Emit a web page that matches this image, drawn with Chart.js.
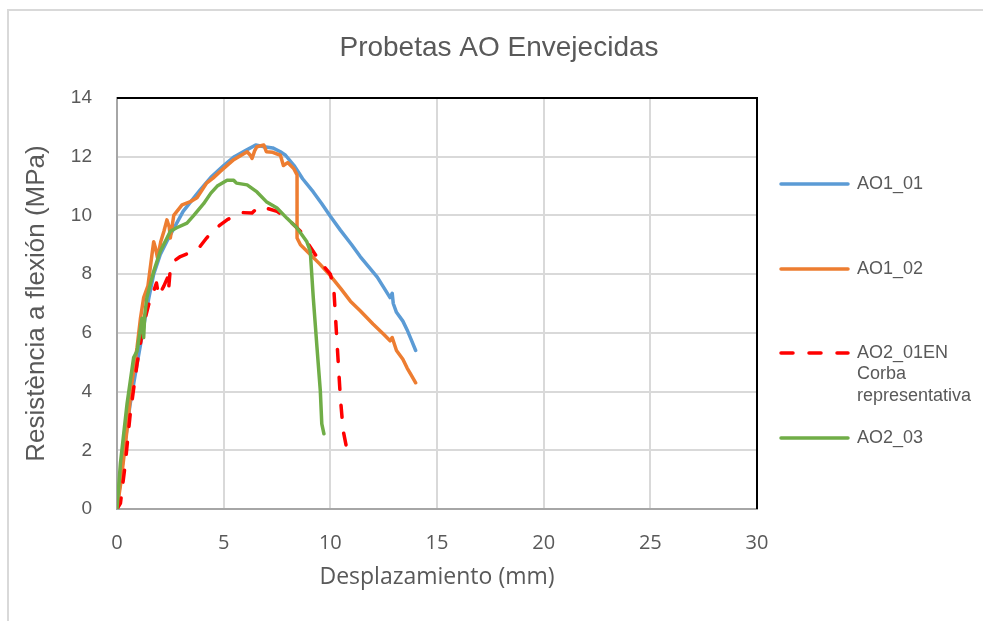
<!DOCTYPE html>
<html lang="es">
<head>
    <meta charset="UTF-8">
    <title>Probetas AO Envejecidas</title>
    <script src="https://cdn.jsdelivr.net/npm/chart.js"></script>
    <style>
        body {
            margin: 0;
            background: #ffffff;
        }
        .chart-container {
            position: relative;
            width: 983px;
            height: 621px;
        }
    </style>
</head>
<body>
    <div class="chart-container">
        <canvas id="graficoFlexion"></canvas>
    </div>

    <script>
        // Marcas de los ejes
        const xTicks = [0, 5, 10, 15, 20, 25, 30];
        const yTicks = [0, 2, 4, 6, 8, 10, 12, 14];

        // AO1_01
        const ao1_01_x = [0, 0.3, 0.6, 0.94, 1.2, 1.4, 1.72, 2.03, 2.34, 2.8, 3.1, 3.6, 3.9, 4.4, 5.0, 5.5, 6.0, 6.5, 6.9, 7.3, 7.66, 7.9, 8.3, 8.7, 9.2, 9.6, 10.0, 10.47, 11.0, 11.4, 11.8, 12.2, 12.5, 12.8, 12.9, 12.95, 13.1, 13.4, 13.6, 13.8, 14.0];
        const ao1_01_y = [0, 1.8, 3.5, 4.94, 6.0, 6.86, 8.0, 8.67, 9.12, 9.74, 10.14, 10.6, 10.87, 11.3, 11.7, 12.0, 12.2, 12.4, 12.34, 12.3, 12.17, 12.05, 11.7, 11.25, 10.8, 10.4, 9.97, 9.5, 9.0, 8.6, 8.25, 7.9, 7.55, 7.2, 7.35, 7.0, 6.7, 6.4, 6.1, 5.75, 5.4];

        // AO1_02
        const ao1_02_x = [0, 0.2, 0.47, 0.7, 0.94, 1.1, 1.25, 1.45, 1.64, 1.72, 1.8, 1.9, 2.05, 2.2, 2.34, 2.45, 2.5, 2.66, 3.05, 3.44, 3.75, 4.2, 4.5, 4.84, 5.47, 6.1, 6.25, 6.33, 6.45, 6.56, 6.88, 7.0, 7.3, 7.66, 7.8, 8.0, 8.28, 8.44, 8.44, 8.6, 9.06, 9.5, 10.0, 10.5, 10.94, 11.4, 12.0, 12.5, 12.8, 12.9, 13.1, 13.4, 13.6, 13.8, 14.0];
        const ao1_02_y = [0, 1.0, 2.7, 4.3, 5.5, 6.5, 7.2, 7.6, 8.67, 9.1, 8.9, 8.55, 9.1, 9.46, 9.85, 9.6, 9.23, 10.0, 10.36, 10.47, 10.6, 11.1, 11.27, 11.5, 11.9, 12.17, 12.05, 11.94, 12.2, 12.34, 12.4, 12.17, 12.15, 12.05, 11.7, 11.8, 11.6, 11.38, 9.23, 9.0, 8.67, 8.35, 7.95, 7.5, 7.08, 6.75, 6.3, 5.95, 5.73, 5.84, 5.4, 5.1, 4.8, 4.55, 4.3];

        // AO2_01EN (curva representativa)
        const ao2_01en_x = [0, 0.16, 0.39, 0.62, 0.94, 1.25, 1.5, 1.72, 1.85, 1.95, 2.2, 2.38, 2.42, 2.5, 2.66, 2.97, 3.6, 3.9, 4.2, 4.4, 4.84, 5.16, 5.8, 6.33, 6.64, 7.0, 7.5, 7.97, 8.6, 8.9, 9.5, 10.0, 10.16, 10.3, 10.47, 10.6, 10.8];
        const ao2_01en_y = [0, 0.19, 1.55, 3.24, 4.94, 6.3, 7.0, 7.42, 7.7, 7.25, 7.6, 7.9, 7.5, 8.2, 8.44, 8.6, 8.78, 8.95, 9.23, 9.4, 9.68, 9.85, 10.1, 10.08, 10.3, 10.25, 10.14, 9.9, 9.46, 9.1, 8.44, 8.0, 7.54, 5.84, 3.8, 2.68, 1.94];

        // AO2_03
        const ao2_03_x = [0, 0.16, 0.47, 0.78, 0.94, 1.05, 1.17, 1.25, 1.3, 1.4, 1.72, 2.03, 2.5, 2.8, 3.28, 3.6, 4.06, 4.4, 4.7, 5.16, 5.47, 5.6, 6.1, 6.56, 7.0, 7.5, 7.97, 8.44, 8.9, 9.06, 9.2, 9.375, 9.53, 9.6, 9.7];
        const ao2_03_y = [0, 1.55, 3.58, 5.16, 5.38, 5.9, 6.5, 5.84, 6.6, 7.2, 8.1, 8.78, 9.46, 9.58, 9.74, 10.0, 10.4, 10.76, 11.0, 11.2, 11.2, 11.1, 11.04, 10.8, 10.47, 10.25, 9.9, 9.57, 9.1, 8.78, 7.2, 5.5, 4.03, 2.9, 2.56];

        const textColor = '#595959';

        function puntos(xs, ys) {
            return xs.map((x, i) => ({ x: x, y: ys[i] }));
        }

        function serie(label, xs, ys, color, order, dash) {
            return {
                label: label,
                data: puntos(xs, ys),
                showLine: true,
                borderColor: color,
                backgroundColor: color,
                borderWidth: 3.5,
                borderDash: dash || [],
                borderCapStyle: 'round',
                borderJoinStyle: 'round',
                pointRadius: 0,
                tension: 0,
                order: order
            };
        }

        // Título, marco exterior, bordes negros y leyenda a la derecha
        const decoracion = {
            id: 'decoracion',
            beforeDraw(chart) {
                const c = chart.ctx;
                c.save();
                c.strokeStyle = '#d9d9d9';
                c.lineWidth = 2;
                c.beginPath();
                c.moveTo(8, chart.height + 5);
                c.lineTo(8, 10);
                c.lineTo(chart.width + 5, 10);
                c.stroke();
                c.restore();
            },
            afterDraw(chart) {
                const c = chart.ctx;
                const a = chart.chartArea;
                c.save();

                c.strokeStyle = '#000000';
                c.lineWidth = 2;
                c.beginPath();
                c.moveTo(a.left, a.top);
                c.lineTo(a.right, a.top);
                c.lineTo(a.right, a.bottom);
                c.stroke();

                c.fillStyle = textColor;
                c.textAlign = 'center';
                c.textBaseline = 'middle';
                c.font = '28px "Liberation Sans", Arial, sans-serif';
                c.fillText('Probetas AO Envejecidas', 499, 48);

                const filas = [184, 269, 353, 438];
                c.font = '18px "Liberation Sans", Arial, sans-serif';
                c.textAlign = 'left';
                chart.data.datasets.forEach((ds, i) => {
                    const y = filas[i];
                    c.strokeStyle = ds.borderColor;
                    c.lineWidth = 3.5;
                    c.lineCap = 'round';
                    c.setLineDash(ds.borderDash);
                    c.beginPath();
                    c.moveTo(781, y);
                    c.lineTo(848, y);
                    c.stroke();
                    c.setLineDash([]);
                    const lineas = Array.isArray(ds.label) ? ds.label : [ds.label];
                    lineas.forEach((t, k) => c.fillText(t, 857, y + k * 21.5));
                });
                c.restore();
            }
        };

        const ctx = document.getElementById('graficoFlexion').getContext('2d');

        new Chart(ctx, {
            type: 'scatter',
            data: {
                datasets: [
                    serie('AO1_01', ao1_01_x, ao1_01_y, '#5b9bd5', 4),
                    serie('AO1_02', ao1_02_x, ao1_02_y, '#ed7d31', 3),
                    serie(['AO2_01EN', 'Corba', 'representativa'], ao2_01en_x, ao2_01en_y, '#ff0000', 2, [12, 16]),
                    serie('AO2_03', ao2_03_x, ao2_03_y, '#70ad47', 1)
                ]
            },
            options: {
                responsive: true,
                maintainAspectRatio: false,
                animation: false,
                layout: {
                    padding: { top: 98, right: 226, left: 0, bottom: 0 }
                },
                plugins: {
                    legend: { display: false },
                    tooltip: { enabled: false },
                    title: { display: false }
                },
                scales: {
                    x: {
                        type: 'linear',
                        min: 0,
                        max: 30,
                        afterBuildTicks: s => { s.ticks = xTicks.map(v => ({ value: v })); },
                        afterFit: s => { s.height = 112; },
                        grid: { color: '#d9d9d9', lineWidth: 2, drawTicks: false },
                        border: { color: '#a6a6a6', width: 2 },
                        ticks: {
                            padding: 22,
                            color: textColor,
                            font: { family: '"Open Sans", sans-serif', size: 20 }
                        },
                        title: {
                            display: true,
                            text: 'Desplazamiento (mm)',
                            color: textColor,
                            font: { family: '"Open Sans", sans-serif', size: 23 },
                            padding: { top: 0, bottom: 30 }
                        }
                    },
                    y: {
                        type: 'linear',
                        min: 0,
                        max: 14,
                        afterBuildTicks: s => { s.ticks = yTicks.map(v => ({ value: v })); },
                        afterFit: s => { s.width = 117; },
                        grid: { color: '#d9d9d9', lineWidth: 2, drawTicks: false },
                        border: { color: '#a6a6a6', width: 2 },
                        ticks: {
                            padding: 25,
                            color: textColor,
                            font: { family: '"Liberation Sans", Arial, sans-serif', size: 19 }
                        },
                        title: {
                            display: true,
                            text: 'Resistència a flexión (MPa)',
                            color: textColor,
                            font: { family: '"Liberation Sans", Arial, sans-serif', size: 26 },
                            padding: { top: 21, bottom: 0 }
                        }
                    }
                }
            },
            plugins: [decoracion]
        });
    </script>
</body>
</html>
